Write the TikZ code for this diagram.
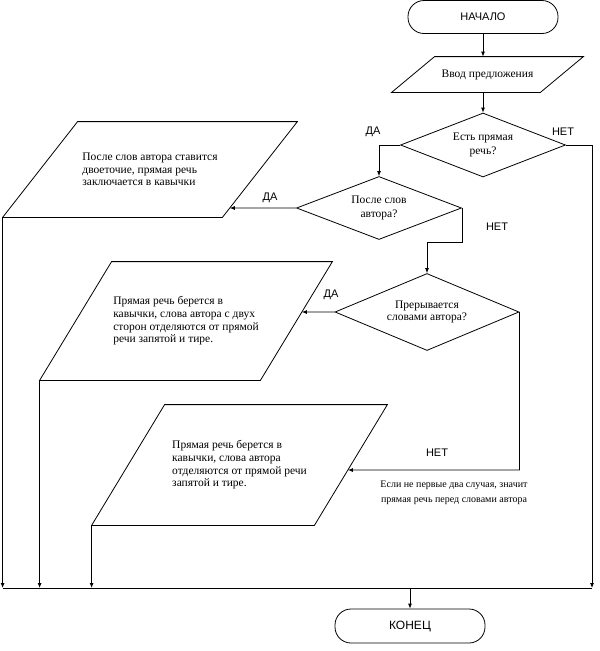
\documentclass[tikz,border=0pt]{standalone}
\usepackage{fontspec}
\setmainfont{Liberation Serif}
\newfontfamily\sansf{Liberation Sans}
\usetikzlibrary{shapes.geometric,arrows.meta}

\begin{document}
\begin{tikzpicture}[x=1pt,y=-1pt,line width=0.8pt,
  arr/.style={-{Latex[length=5pt,width=4pt]}},
  term/.style={draw,rectangle,rounded corners=16pt,minimum width=150pt,minimum height=33pt,inner sep=0pt,font=\sansf\fontsize{11}{13}\selectfont},
  cond/.style={draw,diamond,aspect=2.4,inner sep=0pt,align=center,font=\fontsize{11.5}{14}\selectfont},
  iobox/.style={rectangle,inner sep=0pt,align=left,font=\fontsize{11.5}{12.6}\selectfont},
  lbl/.style={font=\sansf\fontsize{11}{13}\selectfont}]
  \useasboundingbox (0,0) rectangle (600,651);
  \node[term] (start) at (483,17) {НАЧАЛО};
  \node[iobox,minimum width=191pt,minimum height=35pt] (p0) at (487.5,74.5) {Ввод предложения};
  \node[cond,minimum width=165pt,minimum height=64pt] (d1) at (483,145) {Есть прямая\\речь?};
  \node[cond,minimum width=165pt,minimum height=63pt] (d2) at (379,208) {После слов\\автора?};
  \node[cond,minimum width=184pt,minimum height=77pt,font=\fontsize{11.5}{12.5}\selectfont] (d3) at (427,312) {Прерывается\\словами автора?};
  \node[iobox,minimum width=294pt,minimum height=95pt] (p1) at (150,169.5) {После слов автора ставится\\двоеточие, прямая речь\\заключается в кавычки};
  \node[iobox,minimum width=292pt,minimum height=118pt] (p2) at (186,321) {Прямая речь берется в\\кавычки, слова автора с двух\\сторон отделяются от прямой\\речи запятой и тире.};
  \node[iobox,minimum width=295pt,minimum height=120pt] (p3) at (239.5,465) {Прямая речь берется в\\кавычки, слова автора\\отделяются от прямой речи\\запятой и тире.};
  \node[align=center,font=\fontsize{10}{15}\selectfont] (note) at (454,493) {Если не первые два случая, значит\\прямая речь перед словами автора};
  \node[term,minimum height=34pt,font=\sansf\fontsize{12}{14}\selectfont] (end) at (410,626) {КОНЕЦ};
  \node[lbl] (da1) at (373,132) {ДА};
  \node[lbl] (net1) at (563,132) {НЕТ};
  \node[lbl] (da2) at (270,198) {ДА};
  \node[lbl] (net2) at (497,227) {НЕТ};
  \node[lbl] (da3) at (331,295) {ДА};
  \node[lbl] (net3) at (437,453) {НЕТ};
  \foreach \p/\s in {p0/43,p1/75,p2/72,p3/73} {
    \coordinate (\p bl) at (\p.south west);
    \coordinate (\p tl) at ([xshift=\s pt]\p.north west);
    \coordinate (\p tr) at (\p.north east);
    \coordinate (\p br) at ([xshift=-\s pt]\p.south east);
    \draw (\p bl) -- (\p tl) -- (\p tr) -- (\p br) -- cycle;
  }
  \coordinate (busL) at (3,588);
  \coordinate (busR) at (592,588);
  \coordinate (n3) at (d3.east |- 0,470);
  \coordinate (n3l) at (0,470);
  \draw[arr] (start.south) -- (start.south |- p0.north);
  \draw[arr] (d1.north |- p0.south) -- (d1.north);
  \draw[arr] (d1.west) -| (d2.north);
  \draw[arr] (d1.east) -| (busR);
  \draw[arr] (d2.west) -- (intersection of p1tr--p1br and d2.west--d2.east);
  \draw[arr] (d2.east) -- ++(0,34) -| (d3.north);
  \draw[arr] (d3.west) -- (intersection of p2tr--p2br and d3.west--d3.east);
  \draw[arr] (d3.east) -- (n3) -- (intersection of p3tr--p3br and n3--n3l);
  \draw[arr] (p1bl) -- (p1bl |- busL);
  \draw[arr] (p2bl) -- (p2bl |- busL);
  \draw[arr] (p3bl) -- (p3bl |- busL);
  \draw (busL) -- (busR);
  \draw[arr] (end.north |- busL) -- (end.north);
\end{tikzpicture}
\end{document}
